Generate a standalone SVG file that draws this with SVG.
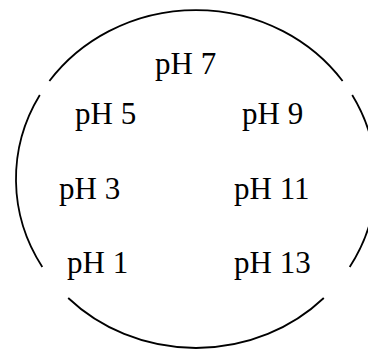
<svg xmlns="http://www.w3.org/2000/svg" width="368" height="349" viewBox="0 0 368 349">
  <style>
    .rim { fill: none; stroke: #000; stroke-width: 1.8; }
    .lbl { font-family: "Liberation Serif", "Times New Roman", serif; font-size: 31px; fill: #000; }
  </style>
  <rect width="368" height="349" fill="#fff"/>
  <!-- broken outline: an ellipse split into four arcs -->
  <g id="connectors">
    <path class="rim" d="M49.4,81 A180,169 0 0 1 342.6,81"/>
    <path class="rim" d="M352.2,95 A180,169 0 0 1 349.7,267"/>
    <path class="rim" d="M323.8,298 A180,169 0 0 1 68.2,298"/>
    <path class="rim" d="M42.3,267 A180,169 0 0 1 39.8,95"/>
  </g>
  <g id="ph7"><text class="lbl" x="155" y="74">pH 7</text></g>
  <g id="ph5"><text class="lbl" x="75" y="124">pH 5</text></g>
  <g id="ph9"><text class="lbl" x="242" y="124">pH 9</text></g>
  <g id="ph3"><text class="lbl" x="59" y="199">pH 3</text></g>
  <g id="ph11"><text class="lbl" x="234" y="199">pH 11</text></g>
  <g id="ph1"><text class="lbl" x="67" y="273">pH 1</text></g>
  <g id="ph13"><text class="lbl" x="234" y="273">pH 13</text></g>
</svg>
